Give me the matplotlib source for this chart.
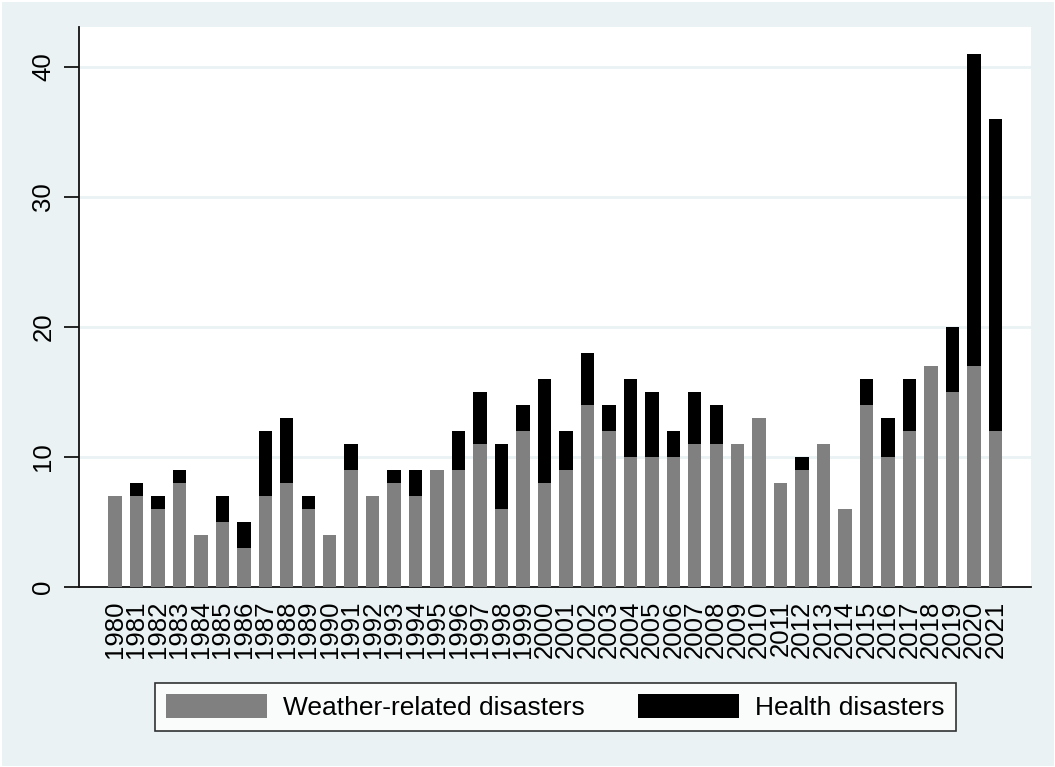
import matplotlib
matplotlib.use("Agg")
import matplotlib.pyplot as plt
import numpy as np

years = list(range(1980, 2022))
weather = [7, 7, 6, 8, 4, 5, 3, 7, 8, 6, 4, 9, 7, 8, 7, 9, 9, 11, 6, 12, 8, 9,
           14, 12, 10, 10, 10, 11, 11, 11, 13, 8, 9, 11, 6, 14, 10, 12, 17, 15, 17, 12]
health = [0, 1, 1, 1, 0, 2, 2, 5, 5, 1, 0, 2, 0, 1, 2, 0, 3, 4, 5, 2, 8, 3,
          4, 2, 6, 5, 2, 4, 3, 0, 0, 0, 1, 0, 0, 2, 3, 4, 0, 5, 24, 24]
series_labels = ["Weather-related disasters", "Health disasters"]
y_ticks = [0, 10, 20, 30, 40]

plt.rcParams['font.family'] = ['Liberation Sans', 'DejaVu Sans']

BG = '#EAF2F3'
fig = plt.figure(figsize=(10.55, 7.67), dpi=100)
fig.patch.set_facecolor(BG)
fig.patch.set_edgecolor('white')
fig.patch.set_linewidth(2)

ax = fig.add_axes([79/1055, 1 - 586.7/767, (1031-79)/1055, (586.7-26.7)/767])
ax.set_facecolor('white')

x = np.arange(len(years))
w = 0.625
ax.bar(x, weather, width=w, color='#808080', label=series_labels[0], zorder=3)
ax.bar(x, health, width=w, bottom=weather, color='black', label=series_labels[1], zorder=3)

ax.set_xlim(-1.677, 42.66)
ax.set_ylim(0, 43.08)

ax.set_yticks(y_ticks)
ax.set_yticklabels([str(t) for t in y_ticks], rotation=90, va='center', fontsize=18.5)
ax.tick_params(axis='y', length=11, width=1.2, pad=6, color='black')
ax.set_xticks(x)
ax.set_xticklabels([str(y) for y in years], rotation=90, fontsize=18.5)
ax.tick_params(axis='x', length=0, pad=10)

for s in ['top', 'right']:
    ax.spines[s].set_visible(False)
for s in ['left', 'bottom']:
    ax.spines[s].set_linewidth(1.3)
    ax.spines[s].set_color('#111111')

ax.yaxis.grid(True, color=BG, linewidth=2, zorder=0)
ax.set_axisbelow(True)

handles, labels = ax.get_legend_handles_labels()
leg = fig.legend(handles, labels, loc='center', bbox_to_anchor=(555.3/1055, 1 - 707.2/767),
                 ncol=2, fontsize=19, frameon=True, fancybox=False,
                 handlelength=3.85, handleheight=1.0, handletextpad=0.6,
                 columnspacing=2.0, borderpad=0.42, borderaxespad=0)
leg.get_frame().set_edgecolor('black')
leg.get_frame().set_linewidth(1.2)
leg.get_frame().set_facecolor('white')

fig.savefig('out.png', dpi=100, facecolor=fig.get_facecolor(), edgecolor='white')
